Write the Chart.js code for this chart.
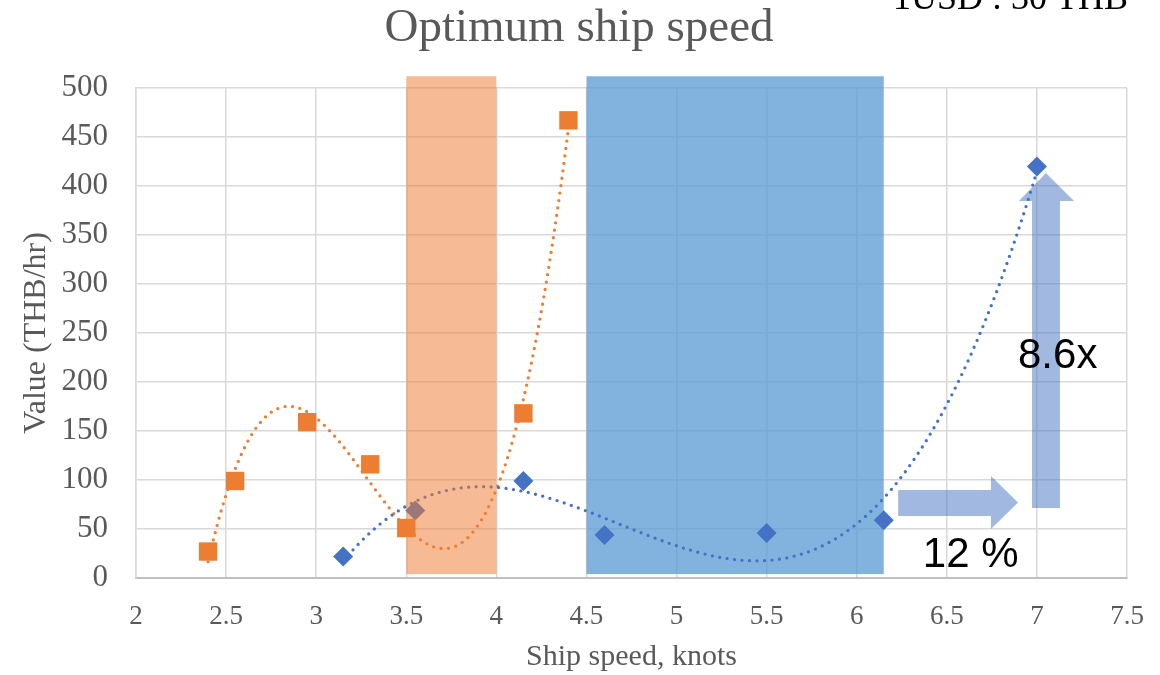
<!DOCTYPE html>
<html>
<head>
<meta charset="utf-8">
<script src="https://cdn.jsdelivr.net/npm/chart.js@4.4.1/dist/chart.umd.min.js"></script>
<style>
  html, body { margin: 0; padding: 0; background: #fff; }
  #wrap { width: 1160px; height: 675px; position: relative; }
</style>
</head>
<body>
<div id="wrap"><canvas id="speedChart"></canvas></div>
<script>
// Values
const orangeX = [2.4, 2.55, 2.95, 3.3, 3.5, 4.15, 4.4];
const orangeY = [27, 99, 159, 116, 51, 168, 467];
const blueX = [3.15, 3.55, 4.15, 4.6, 5.5, 6.15, 7];
const blueY = [22, 69, 99, 44, 46, 59, 420];
const xTicks = [2, 2.5, 3, 3.5, 4, 4.5, 5, 5.5, 6, 6.5, 7, 7.5];
const yTicks = [0, 50, 100, 150, 200, 250, 300, 350, 400, 450, 500];

// shaded speed ranges (knots)
const orangeBand = [3.5, 4.0];
const blueBand = [4.5, 6.15];

const ORANGE = '#ED7D31';
const BLUE = '#4472C4';
const GREY = '#595959';
const SERIF = '"Liberation Serif", "Times New Roman", serif';
const SANS = '"Liberation Sans", Arial, sans-serif';

// least squares polynomial, like an Excel trendline
function polyfit(xs, ys, order) {
  const n = order + 1;
  const A = Array.from({ length: n }, () => new Array(n + 1).fill(0));
  for (let k = 0; k < xs.length; k++) {
    for (let i = 0; i < n; i++) {
      for (let j = 0; j < n; j++) A[i][j] += Math.pow(xs[k], i + j);
      A[i][n] += Math.pow(xs[k], i) * ys[k];
    }
  }
  for (let c = 0; c < n; c++) {
    let p = c;
    for (let r = c + 1; r < n; r++) if (Math.abs(A[r][c]) > Math.abs(A[p][c])) p = r;
    [A[c], A[p]] = [A[p], A[c]];
    for (let r = 0; r < n; r++) {
      if (r === c) continue;
      const f = A[r][c] / A[c][c];
      for (let k = c; k <= n; k++) A[r][k] -= f * A[c][k];
    }
  }
  return A.map((row, i) => row[n] / row[i]);
}

function polyval(coef, x) {
  return coef.reduce((s, c, i) => s + c * Math.pow(x, i), 0);
}

const trends = [
  { xs: orangeX, coef: polyfit(orangeX, orangeY, 3), color: ORANGE },
  { xs: blueX, coef: polyfit(blueX, blueY, 3), color: BLUE },
];

function fillBand(chart, band, color) {
  const { ctx, scales: { x, y } } = chart;
  const left = x.getPixelForValue(band[0]), right = x.getPixelForValue(band[1]);
  const top = y.getPixelForValue(512), bottom = y.getPixelForValue(4);
  ctx.save();
  ctx.fillStyle = color;
  ctx.fillRect(left, top, right - left, bottom - top);
  ctx.restore();
}

// blue band sits under the marks, then the dotted trendlines
const trendPlugin = {
  id: 'trendlines',
  beforeDatasetsDraw(chart) {
    fillBand(chart, blueBand, 'rgba(91, 155, 213, 0.76)');
    const { ctx, scales: { x, y } } = chart;
    trends.forEach(t => {
      const x0 = Math.min(...t.xs), x1 = Math.max(...t.xs);
      ctx.save();
      ctx.strokeStyle = t.color;
      ctx.lineWidth = 3.3;
      ctx.lineCap = 'round';
      ctx.setLineDash([0, 7.5]);
      ctx.beginPath();
      for (let v = x0; v <= x1 + 1e-9; v += 0.01) {
        const px = x.getPixelForValue(v), py = y.getPixelForValue(polyval(t.coef, v));
        if (v === x0) ctx.moveTo(px, py); else ctx.lineTo(px, py);
      }
      ctx.stroke();
      ctx.restore();
    });
  }
};

// orange band, arrows and the notes on top of the plot
const overlayPlugin = {
  id: 'overlay',
  afterDatasetsDraw(chart) {
    fillBand(chart, orangeBand, 'rgba(237, 125, 49, 0.52)');
    const { ctx, scales: { x, y } } = chart;
    const px = v => x.getPixelForValue(v);
    const py = v => y.getPixelForValue(v);

    ctx.save();
    ctx.fillStyle = 'rgba(68, 114, 196, 0.5)';
    // right arrow
    ctx.beginPath();
    ctx.moveTo(px(6.23), py(89.8));
    ctx.lineTo(px(6.745), py(89.8));
    ctx.lineTo(px(6.745), py(104));
    ctx.lineTo(px(6.895), py(77));
    ctx.lineTo(px(6.745), py(50));
    ctx.lineTo(px(6.745), py(63.3));
    ctx.lineTo(px(6.23), py(63.3));
    ctx.closePath();
    ctx.fill();
    // up arrow
    ctx.beginPath();
    ctx.moveTo(px(6.973), py(71.4));
    ctx.lineTo(px(6.973), py(384.7));
    ctx.lineTo(px(6.9), py(384.7));
    ctx.lineTo(px(7.05), py(413.3));
    ctx.lineTo(px(7.206), py(384.7));
    ctx.lineTo(px(7.128), py(384.7));
    ctx.lineTo(px(7.128), py(71.4));
    ctx.closePath();
    ctx.fill();

    ctx.fillStyle = '#000';
    ctx.font = '42px ' + SANS;
    ctx.textAlign = 'left';
    ctx.textBaseline = 'alphabetic';
    ctx.fillText('8.6x', px(6.895), py(214));
    ctx.fillText('12 %', px(6.367), py(11.2));
    ctx.restore();
  },
  afterDraw(chart) {
    const ctx = chart.ctx;
    ctx.save();
    // chart title, centred on the whole picture
    ctx.fillStyle = GREY;
    ctx.font = '47px ' + SERIF;
    ctx.textAlign = 'center';
    ctx.textBaseline = 'middle';
    ctx.fillText('Optimum ship speed', 579, 29);
    // exchange-rate note, cut off by the top edge
    ctx.fillStyle = '#000';
    ctx.font = '36px ' + SERIF;
    ctx.textAlign = 'right';
    ctx.textBaseline = 'alphabetic';
    ctx.fillText('1USD : 30 THB', 1128, 9);
    ctx.restore();
  }
};

const ctx = document.getElementById('speedChart').getContext('2d');
new Chart(ctx, {
  type: 'scatter',
  data: {
    datasets: [
      {
        label: 'Series 1',
        data: orangeX.map((v, i) => ({ x: v, y: orangeY[i] })),
        pointStyle: 'rect',
        pointRadius: 13,
        pointHoverRadius: 13,
        backgroundColor: ORANGE,
        borderColor: ORANGE,
        borderWidth: 0,
      },
      {
        label: 'Series 2',
        data: blueX.map((v, i) => ({ x: v, y: blueY[i] })),
        pointStyle: 'rectRot',
        pointRadius: 10,
        pointHoverRadius: 10,
        backgroundColor: BLUE,
        borderColor: BLUE,
        borderWidth: 0,
      },
    ],
  },
  options: {
    responsive: true,
    maintainAspectRatio: false,
    animation: false,
    layout: { padding: { left: 0, right: 33, top: 88, bottom: 0 } },
    plugins: {
      legend: { display: false },
      tooltip: { enabled: false },
      title: { display: false },
    },
    scales: {
      x: {
        type: 'linear',
        min: 2,
        max: 7.5,
        afterBuildTicks: s => { s.ticks = xTicks.map(v => ({ value: v })); },
        afterFit: s => {
          s.height = 97;
          s.paddingLeft = 0;
          s.paddingRight = 0;
        },
        ticks: {
          color: GREY,
          font: { family: SERIF, size: 27 },
          padding: 23,
          maxRotation: 0,
          callback: v => String(v),
        },
        grid: { color: '#D9D9D9', lineWidth: 1.5, drawTicks: false },
        border: { color: '#BFBFBF', width: 2 },
        title: {
          display: true,
          text: 'Ship speed, knots',
          color: GREY,
          font: { family: SERIF, size: 30 },
          padding: { top: 0, bottom: 0 },
        },
      },
      y: {
        min: 0,
        max: 500,
        afterBuildTicks: s => { s.ticks = yTicks.map(v => ({ value: v })); },
        afterFit: s => { s.width = 136; },
        ticks: {
          color: GREY,
          font: { family: SERIF, size: 31 },
          padding: 28,
        },
        grid: { color: '#D9D9D9', lineWidth: 1.5, drawTicks: false },
        border: { color: '#D9D9D9', width: 1.5 },
        title: {
          display: true,
          text: 'Value (THB/hr)',
          color: GREY,
          font: { family: SERIF, size: 32 },
          padding: { top: 17, bottom: 0 },
        },
      },
    },
  },
  plugins: [trendPlugin, overlayPlugin],
});
</script>
</body>
</html>
